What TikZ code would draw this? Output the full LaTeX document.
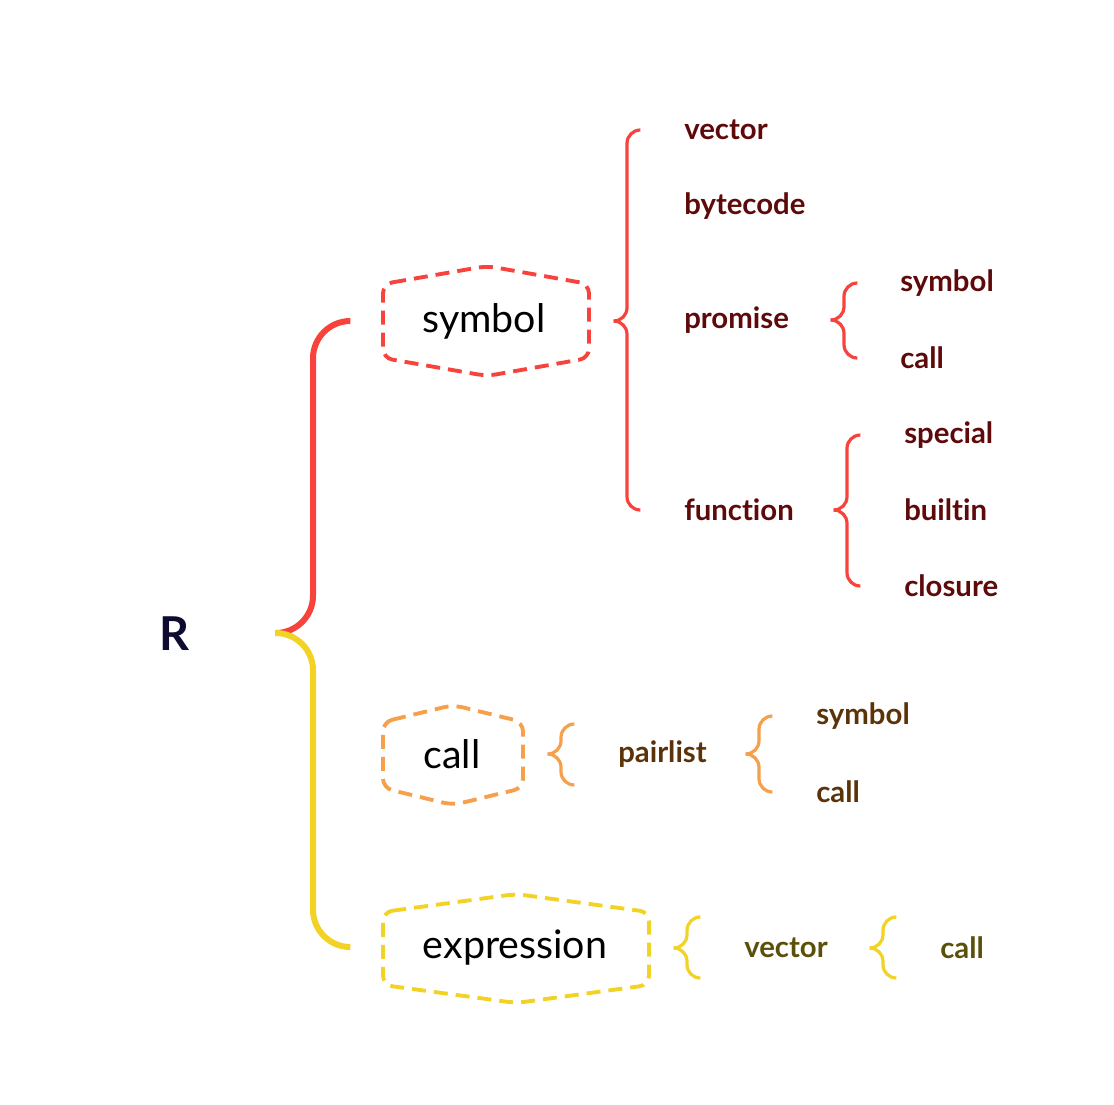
\documentclass[tikz,border=0pt]{standalone}
\usepackage{fontspec}
\setmainfont{Lato}[Ligatures=NoCommon]
\definecolor{cred}{HTML}{F8433D}
\definecolor{cyel}{HTML}{F3D226}
\definecolor{corg}{HTML}{F6A04B}
\definecolor{tred}{HTML}{5E0A0A}
\definecolor{tbrn}{HTML}{5C3209}
\definecolor{toli}{HTML}{5B500A}
\definecolor{tnav}{HTML}{0D0B30}
\begin{document}
\begin{tikzpicture}[x=0.75pt,y=-0.75pt,
  mainlbl/.style={font=\fontsize{29.5}{33}\selectfont, text=black, inner sep=0pt},
  sublbl/.style={font=\bfseries\fontsize{22}{26}\selectfont, anchor=west, inner sep=0pt},
  hexa/.style={draw=#1, line width=2.9pt, dash pattern=on 10.5pt off 6pt, rounded corners=7pt},
  bigbrace/.style={draw=#1, line width=4.5pt, rounded corners=28pt},
  brc/.style={draw=#1, line width=2.4pt, rounded corners=10pt, line cap=round}]
\useasboundingbox (0,0) rectangle (1114,1104);

% root
\node[font=\bfseries\fontsize{35}{40}\selectfont, text=tnav, inner sep=0pt] (R) at (175,634) {R};

% main nodes
\node[mainlbl] (sym) at (484,321) {symbol};
\node[mainlbl] (cal) at (452,754) {call};
\node[mainlbl] (exp) at (515,948) {expression};

\draw[hexa=cred] (383,284) -- (487,266) -- (589,284) -- (589,358) -- (487,376) -- (383,358) -- cycle;
\draw[hexa=corg] (383,722) -- (453,705) -- (523,722) -- (523,788) -- (453,805) -- (383,788) -- cycle;
\draw[hexa=cyel] (383,912) -- (516,894) -- (649,912) -- (649,985) -- (516,1003) -- (383,985) -- cycle;

% main brace
\coordinate (rtip) at (275,633);
\coordinate (symin) at (350,321);
\coordinate (expin) at (350,947);
\draw[bigbrace=cred] (rtip) -- (313,633) -- (313,321) -- (symin);
\draw[bigbrace=cyel] (rtip) -- (313,633) -- (313,947) -- (expin);

% symbol children
\node[sublbl,text=tred] (vec) at (684,130) {vector};
\node[sublbl,text=tred] (byt) at (684,206) {bytecode};
\node[sublbl,text=tred] (pro) at (684,320) {promise};
\node[sublbl,text=tred] (fun) at (684,510) {function};
\draw[brc=cred] (640,130) -- (627,130) -- (627,321) -- (614,321);
\draw[brc=cred] (614,321) -- (627,321) -- (627,510) -- (640,510);

% promise children
\node[sublbl,text=tred] (psym) at (900,283) {symbol};
\node[sublbl,text=tred] (pcal) at (900,358) {call};
\draw[brc=cred] (857,283) -- (844,283) -- (844,320) -- (831,320);
\draw[brc=cred] (831,320) -- (844,320) -- (844,358) -- (857,358);

% function children
\node[sublbl,text=tred] (fsp) at (904,435) {special};
\node[sublbl,text=tred] (fbu) at (904,510) {builtin};
\node[sublbl,text=tred] (fcl) at (904,586) {closure};
\draw[brc=cred] (860,435) -- (847,435) -- (847,510) -- (834,510);
\draw[brc=cred] (834,510) -- (847,510) -- (847,586) -- (860,586);

% call children
\node[sublbl,text=tbrn] (pai) at (618,754) {pairlist};
\draw[brc=corg] (574,724) -- (561,724) -- (561,754) -- (548,754);
\draw[brc=corg] (548,754) -- (561,754) -- (561,785) -- (574,785);
\node[sublbl,text=tbrn] (psy2) at (816,716) {symbol};
\node[sublbl,text=tbrn] (pca2) at (816,792) {call};
\draw[brc=corg] (772,716) -- (759,716) -- (759,754) -- (746,754);
\draw[brc=corg] (746,754) -- (759,754) -- (759,792) -- (772,792);

% expression children
\node[sublbl,text=toli] (evec) at (744,948) {vector};
\draw[brc=cyel] (699,917) -- (687,917) -- (687,948) -- (675,948);
\draw[brc=cyel] (675,948) -- (687,948) -- (687,978) -- (699,978);
\node[sublbl,text=toli] (ecal) at (940,948) {call};
\draw[brc=cyel] (895,917) -- (883,917) -- (883,948) -- (871,948);
\draw[brc=cyel] (871,948) -- (883,948) -- (883,978) -- (895,978);
\end{tikzpicture}
\end{document}
